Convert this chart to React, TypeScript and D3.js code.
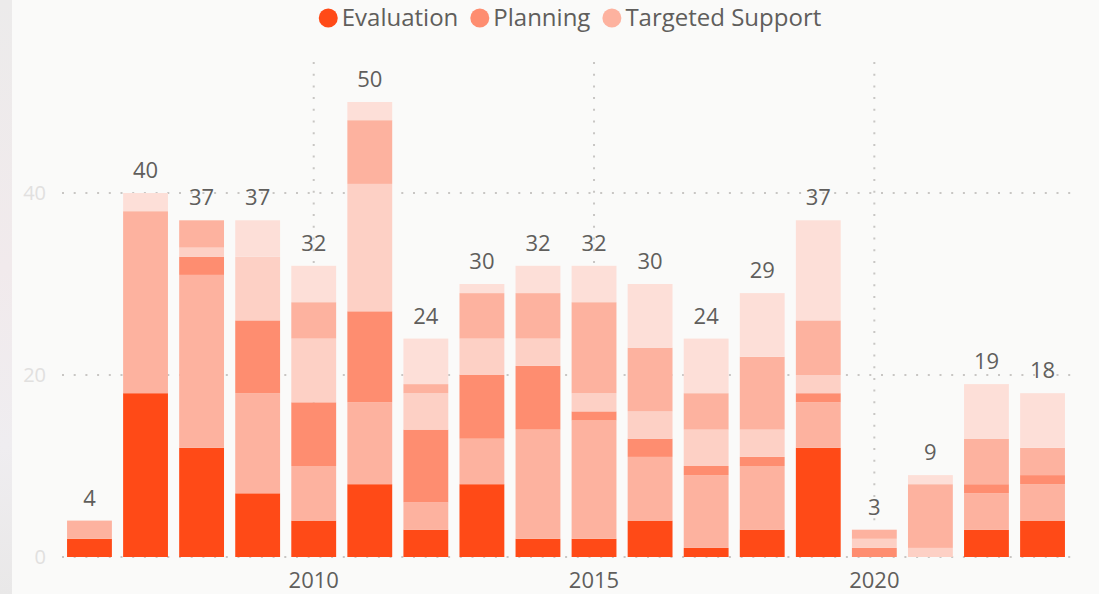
import React, { useEffect, useRef } from "react";
import * as d3 from "d3";

const years = [
  2006, 2007, 2008, 2009, 2010, 2011, 2012, 2013, 2014, 2015, 2016, 2017,
  2018, 2019, 2020, 2021, 2022, 2023,
];
// stack order, bottom to top
const evaluation = [2, 18, 12, 7, 4, 8, 3, 8, 2, 2, 4, 1, 3, 12, 0, 0, 3, 4];
const supportA = [2, 20, 19, 11, 6, 9, 3, 5, 12, 13, 7, 8, 7, 5, 0, 0, 4, 4];
const planning = [0, 0, 2, 8, 7, 10, 8, 7, 7, 1, 2, 1, 1, 1, 1, 0, 1, 1];
const planningLight = [0, 0, 1, 7, 7, 14, 4, 4, 3, 2, 3, 4, 3, 2, 1, 1, 0, 0];
const supportB = [0, 0, 3, 0, 4, 7, 1, 5, 5, 10, 7, 4, 8, 6, 1, 7, 5, 3];
const evaluationLight = [0, 2, 0, 4, 4, 2, 5, 1, 3, 4, 7, 6, 7, 11, 0, 1, 6, 6];

const yTicks = [0, 20, 40];
const xTicks = [2010, 2015, 2020];
const legendItems = ["Evaluation", "Planning", "Targeted Support"];

const seriesKeys = ["ev", "tsA", "pl", "plL", "tsB", "evL"];
const seriesValues = [
  evaluation,
  supportA,
  planning,
  planningLight,
  supportB,
  evaluationLight,
];
const seriesColors = ["#FF4A17", "#FDB29F", "#FE8D70", "#FDD0C5", "#FDB29F", "#FDDFD8"];
const legendColors = ["#FF4A17", "#FE8D70", "#FDB29F"];

const FONT = "'Open Sans', 'Noto Sans', sans-serif";

const StackedChart: React.FC = () => {
  const svgRef = useRef<SVGSVGElement>(null);

  useEffect(() => {
    if (!svgRef.current) return;
    const width = 1099;
    const height = 594;

    const svg = d3.select(svgRef.current);
    svg.selectAll("*").remove();
    svg.attr("width", width).attr("height", height);

    // page background + left strip
    const defs = svg.append("defs");
    const grad = defs
      .append("linearGradient")
      .attr("id", "strip")
      .attr("x1", 0)
      .attr("y1", 0)
      .attr("x2", 0)
      .attr("y2", 1);
    grad.append("stop").attr("offset", "0%").attr("stop-color", "#ECEBEB");
    grad.append("stop").attr("offset", "45%").attr("stop-color", "#F1EAEC");
    grad.append("stop").attr("offset", "75%").attr("stop-color", "#EFEDF0");
    grad.append("stop").attr("offset", "100%").attr("stop-color", "#E9E8E8");

    svg.append("rect").attr("width", width).attr("height", height).attr("fill", "#FAFAF9");
    svg.append("rect").attr("width", 12).attr("height", height).attr("fill", "url(#strip)");

    const table = years.map((year, i) => {
      const row: Record<string, number> = { year };
      seriesKeys.forEach((k, j) => (row[k] = seriesValues[j][i]));
      return row;
    });
    const totals = years.map((_, i) => d3.sum(seriesValues, (s) => s[i]));

    const x = d3
      .scaleBand<number>()
      .domain(years)
      .range([62, 1070])
      .paddingInner(0.2)
      .paddingOuter(0.09);

    const y = d3.scaleLinear().domain([0, 40]).range([557, 193]);

    // gridlines
    const grid = svg.append("g");
    grid
      .selectAll("line.h")
      .data(yTicks)
      .enter()
      .append("line")
      .attr("x1", 62)
      .attr("x2", 1078)
      .attr("y1", (d) => y(d))
      .attr("y2", (d) => y(d))
      .attr("stroke", "#C8C6C4")
      .attr("stroke-width", 2)
      .attr("stroke-dasharray", "2,9.7");
    grid
      .selectAll("line.v")
      .data(xTicks)
      .enter()
      .append("line")
      .attr("x1", (d) => x(d)! + x.bandwidth() / 2)
      .attr("x2", (d) => x(d)! + x.bandwidth() / 2)
      .attr("y1", 62)
      .attr("y2", 557)
      .attr("stroke", "#C8C6C4")
      .attr("stroke-width", 2)
      .attr("stroke-dasharray", "2,9.7");

    // y labels
    svg
      .append("g")
      .selectAll("text")
      .data(yTicks)
      .enter()
      .append("text")
      .attr("x", 46)
      .attr("y", (d) => y(d))
      .attr("dy", "0.35em")
      .attr("text-anchor", "end")
      .style("font-family", FONT)
      .style("font-size", "20px")
      .style("fill", "#E1E0DF")
      .text((d) => d);

    // x labels
    svg
      .append("g")
      .selectAll("text")
      .data(xTicks)
      .enter()
      .append("text")
      .attr("x", (d) => x(d)! + x.bandwidth() / 2)
      .attr("y", 588)
      .attr("text-anchor", "middle")
      .style("font-family", FONT)
      .style("font-size", "22px")
      .style("fill", "#605E5C")
      .text((d) => d);

    // stacked bars
    const stacked = d3.stack<Record<string, number>>().keys(seriesKeys)(table);
    svg
      .append("g")
      .selectAll("g")
      .data(stacked)
      .enter()
      .append("g")
      .attr("fill", (_d, i) => seriesColors[i])
      .selectAll("rect")
      .data((d) => d.filter((p) => p[1] > p[0]))
      .enter()
      .append("rect")
      .attr("x", (d) => x(d.data.year)!)
      .attr("width", x.bandwidth())
      .attr("y", (d) => y(d[1]))
      .attr("height", (d) => y(d[0]) - y(d[1]));

    // totals
    svg
      .append("g")
      .selectAll("text")
      .data(years)
      .enter()
      .append("text")
      .attr("x", (d) => x(d)! + x.bandwidth() / 2)
      .attr("y", (_d, i) => y(totals[i]) - 15)
      .attr("text-anchor", "middle")
      .style("font-family", FONT)
      .style("font-size", "22px")
      .style("fill", "#605E5C")
      .text((_d, i) => totals[i]);

    // legend
    const legend = svg.append("g");
    let cx = 0;
    legendItems.forEach((name, i) => {
      const item = legend.append("g").attr("transform", `translate(${cx},0)`);
      item.append("circle").attr("cx", 9.5).attr("cy", 18).attr("r", 9.5).attr("fill", legendColors[i]);
      const t = item
        .append("text")
        .attr("x", 23)
        .attr("y", 18)
        .attr("dy", "0.35em")
        .style("font-family", FONT)
        .style("font-size", "24px")
        .style("fill", "#605E5C")
        .text(name);
      const w = (t.node() as SVGTextElement).getComputedTextLength();
      cx += 23 + w + 12;
    });
    const total = cx - 12;
    legend.attr("transform", `translate(${570 - total / 2},0)`);
  }, []);

  return <svg ref={svgRef} style={{ display: "block" }} />;
};

export default function App() {
  return (
    <div style={{ position: "fixed", left: 0, top: 0, width: 1099, height: 594 }}>
      <StackedChart />
    </div>
  );
}
